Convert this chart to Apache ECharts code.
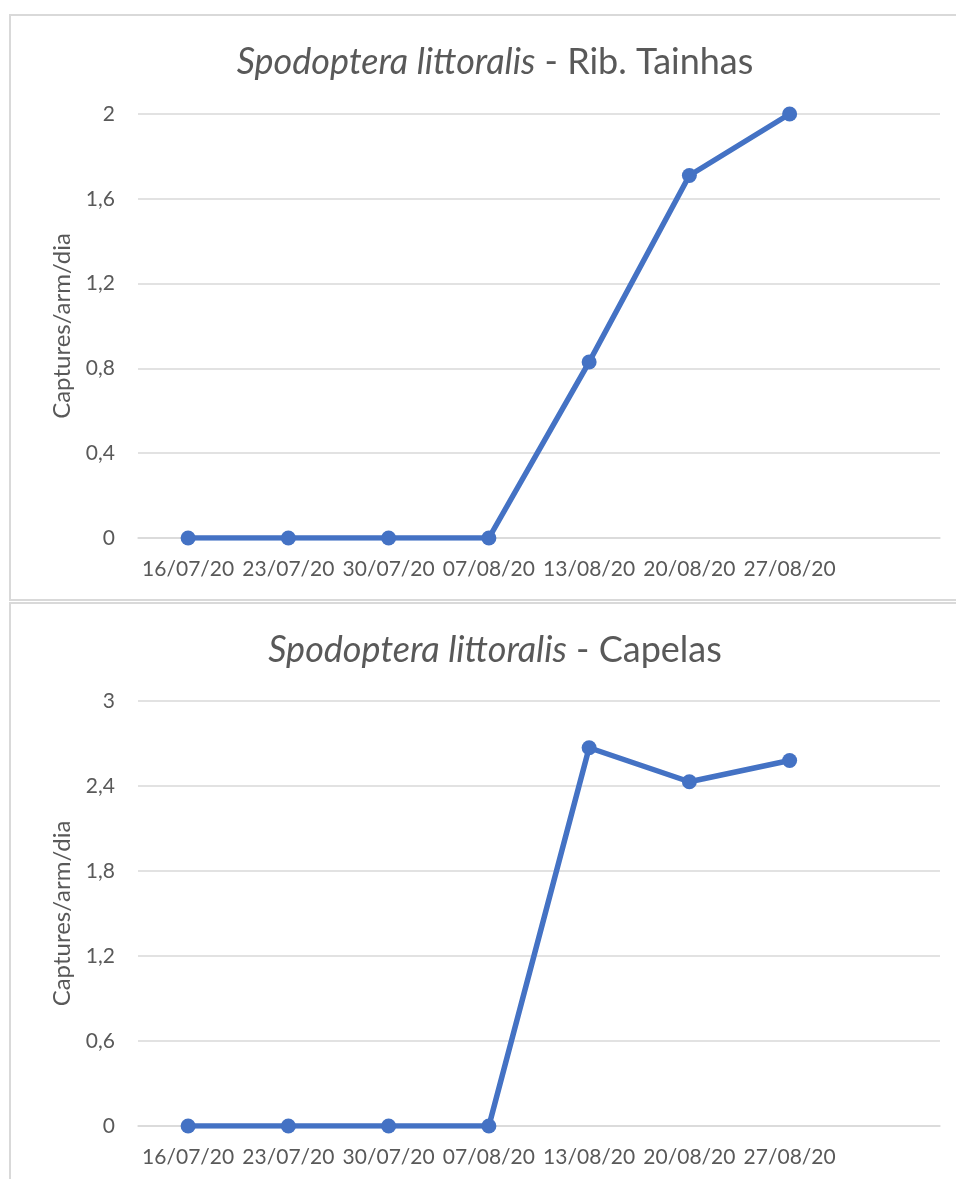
<!DOCTYPE html>
<html>
<head>
<meta charset="utf-8">
<script src="https://cdn.jsdelivr.net/npm/echarts@6/dist/echarts.min.js"></script>
<style>
html,body{margin:0;padding:0;background:#fff;}
#chart{width:956px;height:1179px;}
</style>
</head>
<body>
<div id="chart"></div>
<script>
const categories = ['16/07/20','23/07/20','30/07/20','07/08/20','13/08/20','20/08/20','27/08/20',''];
const tainhasValues = [0, 0, 0, 0, 0.83, 1.71, 2, null];
const capelasValues = [0, 0, 0, 0, 2.67, 2.43, 2.58, null];
const tainhasTicks = { min: 0, max: 2, interval: 0.4 };
const capelasTicks = { min: 0, max: 3, interval: 0.6 };
const titleSpecies = 'Spodoptera littoralis';
const titleSites = [' - Rib. Tainhas', ' - Capelas'];
const yAxisName = 'Captures/arm/dia';

const FONT = 'Lato';
const GREY = '#595959';
const LINE = '#4472C4';

function fmt(v){ return String(Math.round(v*10)/10).replace('.', ','); }

const chart = echarts.init(document.getElementById('chart'), null, {renderer:'canvas'});

function xAxis(gridIndex){
  return {
    type:'category', gridIndex, data: categories, boundaryGap: true,
    axisLine:{show:true, lineStyle:{color:'#d9d9d9', width:1.5}},
    axisTick:{show:false},
    axisLabel:{color:GREY, fontFamily:FONT, fontSize:21, margin:21, interval:0}
  };
}
function yAxis(gridIndex, t){
  return {
    type:'value', gridIndex, min:t.min, max:t.max, interval:t.interval,
    name: yAxisName, nameLocation:'middle', nameGap:64,
    nameTextStyle:{color:GREY, fontFamily:FONT, fontSize:24},
    axisLine:{show:false}, axisTick:{show:false},
    splitLine:{lineStyle:{color:'#d9d9d9', width:1.5}},
    axisLabel:{color:GREY, fontFamily:FONT, fontSize:21, margin:23, formatter: fmt}
  };
}
function title(site, top){
  return {
    text: '{i|' + titleSpecies + '}{n|' + site + '}',
    left: 490, top: top, textAlign:'center',
    textStyle:{
      fontWeight:'normal',
      rich:{
        i:{fontStyle:'italic', fontWeight:'normal', fontFamily:FONT, fontSize:36, color:GREY},
        n:{fontWeight:'normal', fontFamily:FONT, fontSize:36, color:GREY}
      }
    }
  };
}
function series(i, data){
  return {
    type:'line', xAxisIndex:i, yAxisIndex:i, data,
    symbol:'circle', symbolSize:15,
    lineStyle:{color:LINE, width:5.5},
    itemStyle:{color:LINE},
    animation:false
  };
}

chart.setOption({
  backgroundColor:'#fff',
  animation:false,
  title:[ title(titleSites[0], 39), title(titleSites[1], 627) ],
  graphic:[
    {type:'rect', shape:{x:10, y:15, width:980, height:585}, style:{fill:'none', stroke:'#d9d9d9', lineWidth:2}, z:-1},
    {type:'rect', shape:{x:10, y:603, width:980, height:620}, style:{fill:'none', stroke:'#d9d9d9', lineWidth:2}, z:-1}
  ],
  grid:[
    {left:138, right:16, top:114, height:424},
    {left:138, right:16, top:701, height:425}
  ],
  xAxis:[ xAxis(0), xAxis(1) ],
  yAxis:[ yAxis(0, tainhasTicks), yAxis(1, capelasTicks) ],
  series:[ series(0, tainhasValues), series(1, capelasValues) ]
});
</script>
</body>
</html>
